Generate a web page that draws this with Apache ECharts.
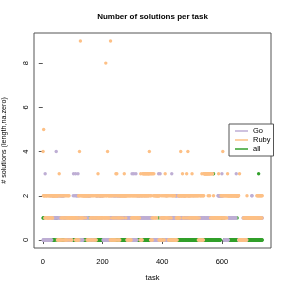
<!DOCTYPE html>
<html><head><meta charset="utf-8">
<script src="https://cdn.jsdelivr.net/npm/echarts@6/dist/echarts.min.js"></script>
<style>html,body{margin:0;padding:0;background:#fff}#c{width:291px;height:291px}</style>
</head><body><div id="c"></div>
<script>
// Number of solutions per task (tasks 1..735), one digit per task, grouped by 5 / 35
const goCounts = [
"00000 00300 00000 00100 00020 00010 22122",
"12121 11214 11212 21121 12211 22122 12221",
"21110 11001 00100 01000 10010 00111 12311",
"12113 21212 21312 11000 00100 00010 12111",
"11121 11211 22202 02220 11011 10110 11011",
"11121 22121 11212 12221 21112 20000 00100",
"00010 00001 01010 11211 11211 12121 21212",
"12112 21121 22121 12111 11211 12121 11211",
"11011 11101 11111 00030 01003 00100 03000",
"21211 12121 11121 11211 11112 11111 21111",
"11211 11111 11010 01100 00000 00002 00000",
"00300 00300 10011 11101 11000 00200 00000",
"11111 11111 13111 11111 11112 22121 12121",
"12121 11111 11112 11211 12111 11111 11211",
"11211 11111 11112 11111 11111 11111 11111",
"11111 11111 11111 11111 11111 11111 11111",
"11111 11111 11111 11111 11111 12222 22222",
"22223 22121 11000 00000 00000 01111 11111",
"11111 11111 11111 11322 22222 00000 00000",
"00000 11011 10110 01011 11111 11111 11112",
"21111 11111 11111 11111 11111 11111 11111"
];
const rubyCounts = [
"42522 21121 22121 12121 21121 22121 12122",
"22222 22222 22202 02003 02020 10210 21012",
"01201 20102 11201 21211 01101 10111 11111",
"11101 01010 10102 02412 91212 12122 12222",
"22122 22020 20202 20201 12012 01201 21012",
"10201 21213 12121 21212 12121 21212 12112",
"81212 14121 22122 09020 20102 01020 10203",
"10320 12012 01022 21222 22122 22322 22122",
"20202 02020 20202 01212 12121 21212 12121",
"12121 21212 02302 02023 23232 32323 23232",
"32323 34232 03203 10312 13212 12121 21222",
"22202 20001 02101 21012 10213 12121 21212",
"01020 10201 02020 20202 02000 01010 11112",
"21212 24222 22321 21222 22122 23122 42122",
"21212 12123 21211 21212 12121 21212 02010",
"20202 02302 02023 33333 33333 33323 33323",
"31313 13131 12111 11111 11111 11131 11111",
"12121 21412 12121 21212 12232 22222 22222",
"22222 22222 22222 22222 22222 20030 00000",
"00000 01010 10101 01021 11111 11111 11111",
"11111 11111 11111 12121 21212 12121 21212"
];
const allCounts = [
"11100 00000 00000 00000 00000 00000 00000",
"00000 01111 11000 00000 00000 00000 00000",
"00000 00000 00000 00000 00000 00000 00000",
"00000 00000 00000 00000 00000 00000 00000",
"00000 00000 00001 00000 00000 00000 00000",
"00000 00000 00000 00000 00000 00000 00000",
"00000 00000 00000 00000 00000 00000 00000",
"00000 00000 00000 00000 00000 00000 00000",
"00000 00000 00000 00000 00000 00000 00000",
"00000 00000 00000 00000 00000 00000 00000",
"00000 00000 00000 00000 00000 00000 00000",
"00100 00000 00000 00000 00000 00000 00000",
"00000 00000 00000 00000 00000 00000 00000",
"00000 00000 00000 00000 00000 00000 00000",
"00000 00000 00000 00000 00000 00000 00000",
"00000 00000 00000 00000 00000 00000 00000",
"00000 00000 03000 00000 00000 00000 00000",
"11111 11111 11000 00000 00000 00000 00000",
"00000 00000 00000 00000 10000 00000 00000",
"00000 00000 00000 00000 00000 00000 00000",
"00000 00000 00000 00000 00300 00000 00000"
];
const seriesNames = ["Go", "Ruby", "all"];
const seriesColors = { Go: "#BEAED4", Ruby: "#FDC086", all: "#33A02C" };
const xTicks = [0, 200, 400, 600];
const yTicks = [0, 2, 4, 6, 8];

function toPoints(chunks) {
  const digits = chunks.join("").replace(/\s+/g, "");
  return Array.from(digits).map((c, i) => [i + 1, Number(c)]);
}
const dataBy = { Go: toPoints(goCounts), Ruby: toPoints(rubyCounts), all: toPoints(allCounts) };

const FONT = "Liberation Sans";
const chart = echarts.init(document.getElementById("c"), null, { renderer: "canvas" });
const drawOrder = ["all", "Go", "Ruby"];
chart.setOption({
  animation: false,
  backgroundColor: "#fff",
  graphic: [{
    type: "text", x: 152.5, y: 17,
    style: { text: "Number of solutions per task", align: "center", verticalAlign: "middle",
      fontFamily: FONT, fontWeight: "bold", fontSize: 8, fill: "#000" }
  }],
  grid: { left: 34, right: 20, top: 33, bottom: 43, show: true, borderColor: "#555", borderWidth: 1,
    containLabel: false, outerBoundsMode: "none" },
  legend: {
    data: seriesNames, orient: "vertical", left: 229, top: 124, icon: "rect",
    itemWidth: 13, itemHeight: 1.5, itemGap: 1,
    backgroundColor: "#fff", borderColor: "#555", borderWidth: 1, borderRadius: 0,
    padding: [3, 3, 3, 6],
    textStyle: { fontFamily: FONT, fontSize: 7.5, color: "#000", lineHeight: 8 }
  },
  xAxis: {
    type: "value", min: -29.4, max: 764.4,
    axisLine: { show: false }, splitLine: { show: false },
    axisTick: { show: true, length: 4, lineStyle: { color: "#555" }, customValues: xTicks },
    axisLabel: { customValues: xTicks, fontFamily: FONT, fontSize: 7.5, color: "#000", margin: 10 },
    name: "task", nameLocation: "middle", nameGap: 26,
    nameTextStyle: { fontFamily: FONT, fontSize: 7.5, color: "#000" }
  },
  yAxis: {
    type: "value", min: -0.36, max: 9.36,
    axisLine: { show: false }, splitLine: { show: false },
    axisTick: { show: true, length: 4, lineStyle: { color: "#555" }, customValues: yTicks },
    axisLabel: { customValues: yTicks, rotate: 90, fontFamily: FONT, fontSize: 7.5, color: "#000", margin: 4 },
    name: "# solutions (length,na.zero)", nameLocation: "middle", nameGap: 26,
    nameTextStyle: { fontFamily: FONT, fontSize: 7.2, color: "#000" }
  },
  series: drawOrder.map(n => ({
    name: n, type: "scatter", data: dataBy[n], symbolSize: 3.4,
    itemStyle: { color: seriesColors[n], opacity: 1 }, emphasis: { disabled: true }
  }))
});
</script></body></html>
